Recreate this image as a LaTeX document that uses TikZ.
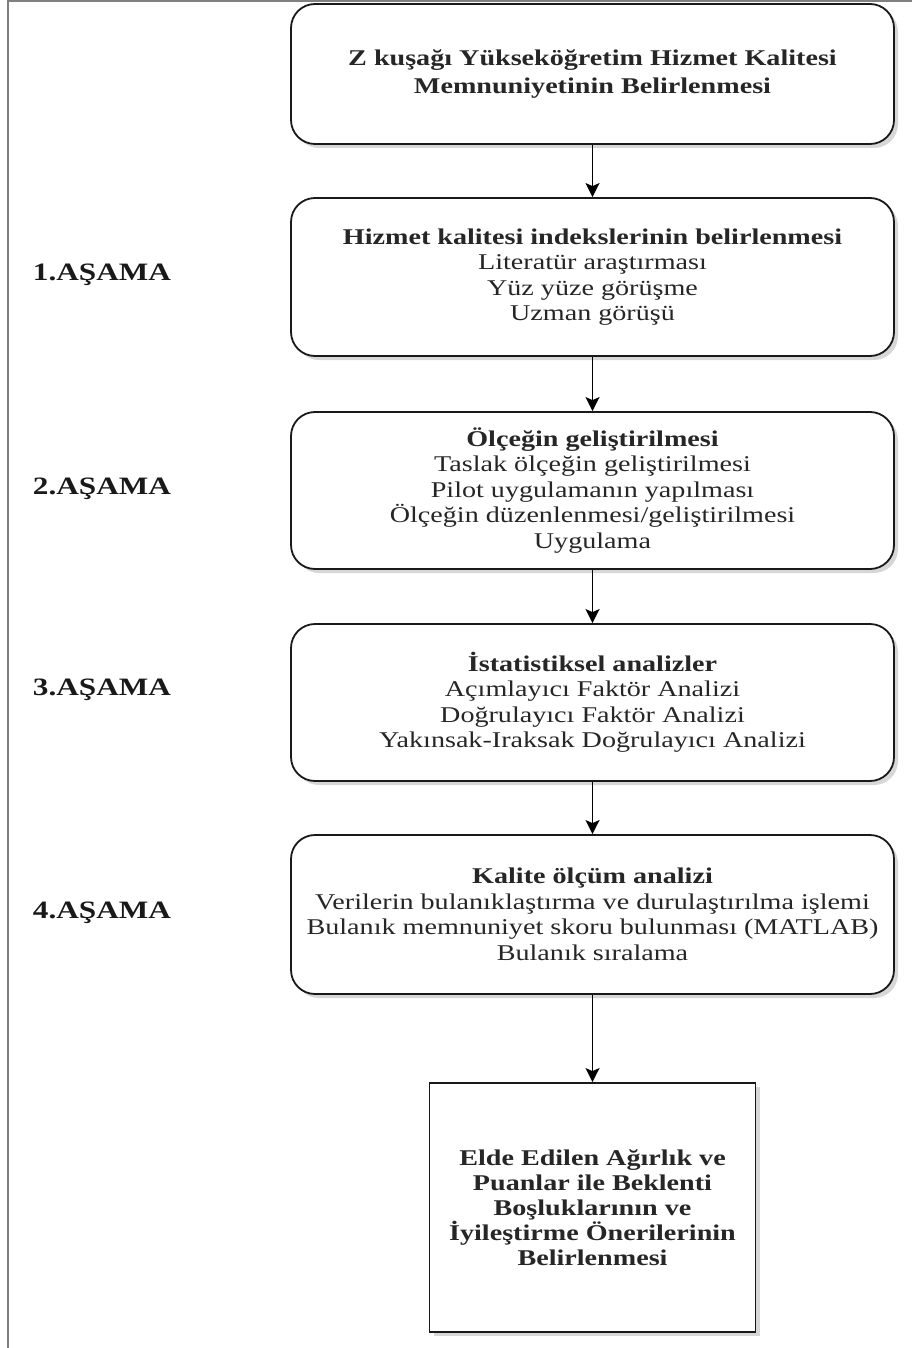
\documentclass[tikz,border=0pt]{standalone}
\usepackage{fontspec}
\setmainfont{Liberation Serif}[FakeStretch=1.25]
\usetikzlibrary{shadows,arrows.meta}
\tikzset{
  rbox/.style={draw=black!90, line width=1.8pt, rounded corners=24pt, fill=white,
    drop shadow={shadow xshift=4pt,shadow yshift=-4pt,opacity=0.35,fill=black!45},
    align=center, minimum width=603pt, inner sep=0pt, text=black!85,
    font=\fontsize{22.5}{25.5}\selectfont},
  sbox/.style={draw=black!90, line width=1.8pt, fill=white,
    drop shadow={shadow xshift=4pt,shadow yshift=-4pt,opacity=0.35,fill=black!45},
    align=center, minimum width=326pt, minimum height=249pt, inner sep=0pt, text=black!85,
    font=\bfseries\fontsize{22.5}{25}\selectfont},
  stage/.style={font=\bfseries\fontsize{25}{30}\selectfont, text=black!90, inner sep=0pt},
  arr/.style={line width=1.8pt, -{Stealth[length=14pt,width=14pt,inset=3pt]}},
  frame/.style={draw=black!50, line width=2pt}
}
\begin{document}
\begin{tikzpicture}[x=1pt,y=-1pt]
\useasboundingbox (0,0) rectangle (912,1348);
\draw[frame] (7.5,1348) -- (7.5,1.5) -- (912,1.5);

\node[rbox, minimum height=140pt, font=\bfseries\fontsize{22.5}{28}\selectfont] (b1) at (592.5,74)
  {Z kuşağı Yükseköğretim Hizmet Kalitesi\\Memnuniyetinin Belirlenmesi};
\node[rbox, minimum height=158pt] (b2) at (592.5,277)
  {\textbf{Hizmet kalitesi indekslerinin belirlenmesi}\\Literatür araştırması\\Yüz yüze görüşme\\Uzman görüşü};
\node[rbox, minimum height=157pt] (b3) at (592.5,490.5)
  {\textbf{Ölçeğin geliştirilmesi}\\Taslak ölçeğin geliştirilmesi\\Pilot uygulamanın yapılması\\Ölçeğin düzenlenmesi/geliştirilmesi\\Uygulama};
\node[rbox, minimum height=157pt] (b4) at (592.5,702.5)
  {\textbf{İstatistiksel analizler}\\Açımlayıcı Faktör Analizi\\Doğrulayıcı Faktör Analizi\\Yakınsak-Iraksak Doğrulayıcı Analizi};
\node[rbox, minimum height=159pt] (b5) at (592.5,914.5)
  {\textbf{Kalite ölçüm analizi}\\Verilerin bulanıklaştırma ve durulaştırılma işlemi\\Bulanık memnuniyet skoru bulunması (MATLAB)\\Bulanık sıralama};
\node[sbox] (b6) at (592.5,1207.5)
  {Elde Edilen Ağırlık ve\\Puanlar ile Beklenti\\Boşluklarının ve\\İyileştirme Önerilerinin\\Belirlenmesi};

\node[stage] (l1) at (102,275) {1.AŞAMA};
\node[stage] (l2) at (102,489) {2.AŞAMA};
\node[stage] (l3) at (102,690) {3.AŞAMA};
\node[stage] (l4) at (102,913) {4.AŞAMA};

\draw[arr] (b1) -- (b2);
\draw[arr] (b2) -- (b3);
\draw[arr] (b3) -- (b4);
\draw[arr] (b4) -- (b5);
\draw[arr] (b5) -- (b6);
\end{tikzpicture}
\end{document}
